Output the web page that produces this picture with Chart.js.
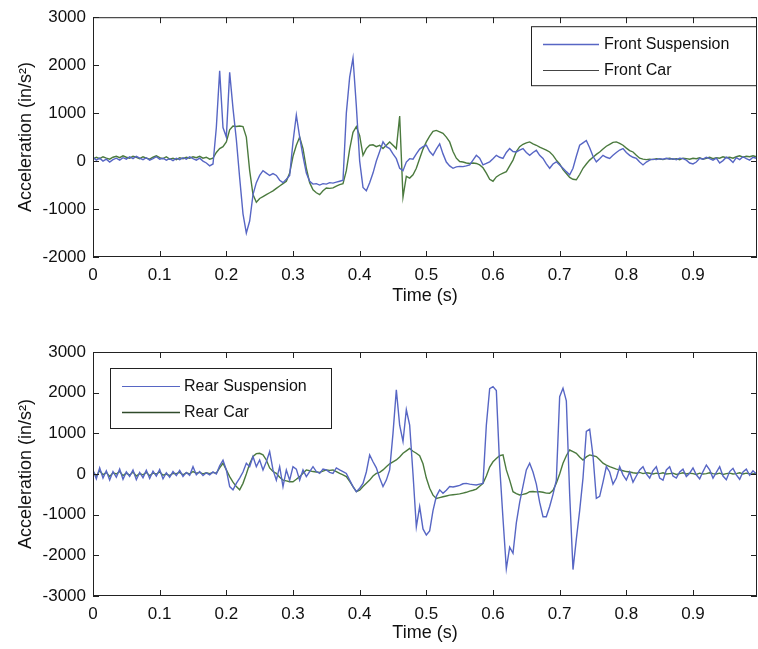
<!DOCTYPE html>
<html>
<head>
<meta charset="utf-8">
<script src="https://cdn.jsdelivr.net/npm/chart.js@4.4.0/dist/chart.umd.min.js"></script>
<style>
  body { margin: 0; background: #fff; }
  #wrap { position: relative; width: 758px; height: 649px; }
  #frontChart { position: absolute; left: 0; top: 0; }
  #rearChart { position: absolute; left: 0; top: 320px; }
</style>
</head>
<body>
<div id="wrap">
  <canvas id="frontChart" width="758" height="310"></canvas>
  <canvas id="rearChart" width="758" height="329"></canvas>
</div>
<script>
// samples every 5 ms, 0 .. 0.995 s
const SAMPLE_STEP = 0.005;
const xTickLabels = ['0', '0.1', '0.2', '0.3', '0.4', '0.5', '0.6', '0.7', '0.8', '0.9'];
const frontYTicks = ['3000', '2000', '1000', '0', '-1000', '-2000'];
const rearYTicks = ['3000', '2000', '1000', '0', '-1000', '-2000', '-3000'];

const frontSuspension = [
  80, 20, 60, 0, 40, -20, 30, 60, 20, 70,
  40, 90, 50, 100, 60, 30, 70, 20, 50, 90,
  40, 60, 20, 50, 10, 60, 30, 70, 40, 90,
  50, 20, 60, 0, -40, -100, -60, 700, 1880, 700,
  500, 1850, 1100, 450, -350, -1100, -1500, -1250, -700, -450,
  -300, -200, -250, -300, -260, -300, -400, -450, -380, -300,
  400, 960, 500, 100, -250, -420, -480, -470, -500, -470,
  -480, -450, -460, -440, -420, -400, 1000, 1750, 2150, 1150,
  0, -550, -620, -450, -250, 0, 200, 400, 300, 260,
  150, 50, -150, -200, -20, 50, 40, 150, 250, 300,
  330, 200, 120, 250, 360, 150, -20, -100, -150, -120,
  -110, -115, -100, -80, 20, 120, 60, -80, -50, -15,
  50, 120, 80, 55, 180, 260, 200, 190, 230, 260,
  180, 120, 180, 225, 120, 55, -60, -150, -60, -15,
  -80, -150, -220, -285, -150, 100, 330, 380, 430, 280,
  100, -15, 50, 120, 80, 55, 120, 180, 230, 260,
  180, 120, 80, 55, -20, -80, -20, 20, 40, 30,
  50, 40, 60, 40, 50, 30, 60, 50, 20, -40,
  -60, -20, 60, 40, 80, 50, 20, 60, -40, 10,
  80, 40, -30, 70, 30, 90, 50, 20, 80, 60
];

const frontCar = [
  40, 80, 50, 90, 60, 40, 80, 100, 70, 110,
  80, 60, 100, 80, 50, 90, 60, 40, 80, 110,
  70, 50, 90, 40, 60, 30, 70, 50, 80, 60,
  90, 70, 100, 60, 80, 40, 60, 180, 260, 300,
  400, 650, 730, 720, 730, 720, 500, -200, -700, -860,
  -780, -740, -700, -660, -620, -570, -520, -470, -420, -250,
  100, 330, 500, 260, -150, -450, -600, -660, -700, -620,
  -560, -570, -560, -520, -490, -470, -200, 250, 600, 720,
  530, 120, 260, 330, 340, 300, 330, 260, 330, 400,
  330, 260, 940, -750, -320, -355, -285, -150, 55, 250,
  400, 520, 620, 640, 610, 580, 500, 400, 200, 60,
  -10, -20, -40, -50, -40, -50, -80, -140, -250, -380,
  -420, -330, -285, -250, -220, -100, 20, 200, 300, 350,
  380, 400, 360, 330, 290, 260, 230, 190, 120, 20,
  -60, -180, -260, -340, -380, -390, -280, -150, -60, 20,
  80, 140, 190, 250, 310, 350, 390, 400, 370, 330,
  270, 220, 190, 120, 60, 40, 30, 40, 30, 50,
  40, 30, 50, 60, 40, 50, 30, 60, 50, 40,
  60, 50, 70, 40, 60, 80, 50, 70, 60, 90,
  70, 80, 60, 90, 110, 80, 100, 90, 110, 90
];

const rearSuspension = [
  100, -120, 150, -100, 80, -150, 60, -80, 120, -130,
  50, -60, 100, -140, 40, -90, 90, -110, 70, -50,
  110, -120, 30, -80, 60, -40, 90, -60, 40, -30,
  180, -20, 60, -40, 30, -20, 50, 0, 200, 340,
  100, -310, -390, -230, -100, 50, 265, 180, 430, 180,
  345, 100, 300, 550, 100, -150, 180, -310, 100, -150,
  180, 120, -150, 100, -65, 60, 180, 60, 15, 120,
  100, 40, 15, 150, 100, 60, 15, -150, -310, -435,
  -350, -230, 50, 470, 300, 150, -100, -310, -150, 100,
  1000, 2070, 1200, 800, 1580, 1200, 0, -1300, -800, -1350,
  -1500, -1400, -900, -550, -390, -475, -400, -310, -320, -300,
  -280, -240, -230, -250, -260, -270, -250, -230, 1200, 2100,
  2150, 2050, 200, -1100, -2330, -1800, -1950, -1200, -700, -300,
  100, 265, 50, -250, -700, -1050, -1050, -800, -500, -150,
  1900, 2110, 1800, -500, -2350, -1600, -900, -100, 1050, 1100,
  450, -600, -550, -200, 180, 50, -250, -100, 180, -20,
  -150, 50, -200, -50, 100, 180, 0, -100, 80, 180,
  -100, -150, 100, 180, -50, -100, 50, 120, -60, 20,
  150, -20, -120, 60, 220, 100, -100, 40, 180, -50,
  -140, 60, 140, -20, -130, 50, 120, -30, 80, 0
];

const rearCar = [
  60, -50, 80, -20, 40, -60, 30, 0, 60, -40,
  20, -30, 50, -50, 10, -20, 40, -40, 20, 0,
  50, -30, 0, -40, 20, 10, 40, -20, 30, 0,
  60, 20, 40, 0, 30, 10, 40, 20, 150, 265,
  100, -65, -200, -310, -390, -230, 0, 250, 430, 500,
  510, 470, 345, 150, 60, 15, -80, -150, -170, -190,
  -190, -130, -65, 20, 100, 80, 60, 50, 40, 70,
  100, 90, 100, 60, 15, -20, -65, -180, -310, -435,
  -400, -310, -230, -150, -50, 15, 40, 100, 180, 250,
  300, 345, 420, 510, 570, 630, 560, 510, 450, 250,
  -100, -350, -520, -600, -580, -560, -540, -520, -510, -500,
  -490, -470, -450, -420, -400, -370, -300, -230, -50, 170,
  300, 380, 450, 470, 100, -150, -435, -480, -515, -500,
  -480, -435, -430, -440, -435, -450, -470, -475, -400, -230,
  0, 265, 450, 590, 550, 510, 420, 345, 420, 470,
  450, 430, 350, 265, 220, 180, 150, 120, 100, 80,
  60, 50, 30, 20, 40, 10, 30, 20, 0, 20,
  10, 30, 0, 10, 20, -10, 10, 30, 0, 20,
  10, -10, 20, 0, 10, 30, 10, 0, 20, -10,
  10, 20, 0, 10, 30, 0, 20, 10, 0, 20
];

const FONT = '"Liberation Sans", Arial, sans-serif';
const BLUE = '#5766c4';
const GREEN = '#4b7a3e';

function toPoints(values) {
  return values.map((v, i) => ({ x: i * SAMPLE_STEP, y: v }));
}

// MATLAB style box with inward ticks on all four sides
const matlabBox = {
  id: 'matlabBox',
  afterDatasetsDraw(chart) {
    const { ctx, chartArea: a, scales } = chart;
    ctx.save();
    ctx.strokeStyle = '#222';
    ctx.lineWidth = 1;
    ctx.beginPath();
    scales.x.ticks.forEach(t => {
      const px = Math.round(scales.x.getPixelForValue(t.value)) + 0.5;
      ctx.moveTo(px, a.bottom); ctx.lineTo(px, a.bottom - 6);
      ctx.moveTo(px, a.top); ctx.lineTo(px, a.top + 6);
    });
    scales.y.ticks.forEach(t => {
      const py = Math.round(scales.y.getPixelForValue(t.value)) + 0.5;
      ctx.moveTo(a.left, py); ctx.lineTo(a.left + 6, py);
      ctx.moveTo(a.right, py); ctx.lineTo(a.right - 6, py);
    });
    ctx.stroke();
    ctx.strokeRect(a.left + 0.5, a.top + 0.5, a.right - a.left - 1, a.bottom - a.top - 1);
    ctx.restore();
  }
};

const boxLegend = {
  id: 'boxLegend',
  afterDraw(chart, args, opts) {
    const { ctx, chartArea: a } = chart;
    const left = opts.align === 'right' ? a.right - opts.offsetX - opts.width : a.left + opts.offsetX;
    const top = a.top + opts.offsetY;
    ctx.save();
    ctx.fillStyle = '#fff';
    ctx.fillRect(left, top, opts.width, opts.height);
    ctx.strokeStyle = '#222';
    ctx.lineWidth = 1;
    ctx.strokeRect(left + 0.5, top + 0.5, opts.width, opts.height);
    ctx.font = '16px ' + FONT;
    ctx.textBaseline = 'middle';
    ctx.fillStyle = '#111';
    chart.data.datasets.forEach((ds, i) => {
      const y = Math.round(top + opts.firstRow + i * opts.rowGap) + 0.5;
      ctx.strokeStyle = ds.legendColor || ds.borderColor;
      ctx.lineWidth = ds.legendWidth || 1;
      ctx.beginPath();
      ctx.moveTo(left + opts.lineStart, y);
      ctx.lineTo(left + opts.lineEnd, y);
      ctx.stroke();
      ctx.fillText(ds.label, left + opts.textStart, y);
    });
    ctx.restore();
  }
};

function makeChart(id, cfg) {
  return new Chart(document.getElementById(id), {
    type: 'line',
    data: { datasets: cfg.datasets },
    plugins: [matlabBox, boxLegend],
    options: {
      responsive: false,
      animation: false,
      devicePixelRatio: 1,
      layout: { padding: { top: cfg.padTop, right: 1, bottom: 0, left: 0 } },
      elements: { point: { radius: 0 }, line: { borderWidth: 1.4, tension: 0 } },
      plugins: {
        legend: { display: false },
        tooltip: { enabled: false },
        boxLegend: cfg.legend
      },
      scales: {
        x: {
          type: 'linear',
          min: 0,
          max: 0.996,
          grid: { display: false, drawTicks: false },
          border: { display: false },
          ticks: {
            stepSize: 0.1,
            includeBounds: false,
            padding: 8,
            color: '#111',
            font: { family: FONT, size: 17 },
            maxRotation: 0,
            autoSkip: false,
            callback: v => xTickLabels[Math.round(v * 10)]
          },
          title: {
            display: true,
            text: 'Time (s)',
            color: '#111',
            font: { family: FONT, size: 18 },
            padding: { top: 0, bottom: cfg.titleBottom }
          },
          afterFit: s => { s.height = 53; }
        },
        y: {
          min: cfg.yMin,
          max: 3000,
          grid: { display: false, drawTicks: false },
          border: { display: false },
          ticks: {
            stepSize: 1000,
            padding: 7,
            color: '#111',
            font: { family: FONT, size: 17 },
            callback: v => cfg.yTicks.includes(String(v)) ? String(v) : ''
          },
          title: {
            display: true,
            text: 'Acceleration (in/s\u00b2)',
            color: '#111',
            font: { family: FONT, size: 18 },
            padding: { top: 15, bottom: 0 }
          },
          afterFit: s => { s.width = 93; }
        }
      }
    }
  });
}

makeChart('frontChart', {
  padTop: 13,
  yMin: -2000,
  yTicks: frontYTicks,
  titleBottom: 3,
  legend: { align: 'right', offsetX: 1, offsetY: 9, width: 225, height: 59,
            firstRow: 17.5, rowGap: 26.5, lineStart: 12, lineEnd: 68, textStart: 73 },
  datasets: [
    { label: 'Front Suspension', data: toPoints(frontSuspension), borderColor: BLUE, legendWidth: 1.5 },
    { label: 'Front Car', data: toPoints(frontCar), borderColor: GREEN, legendColor: '#444', legendWidth: 1 }
  ]
});

makeChart('rearChart', {
  padTop: 32,
  yMin: -3000,
  yTicks: rearYTicks,
  titleBottom: 5,
  legend: { align: 'left', offsetX: 17, offsetY: 16, width: 221, height: 60,
            firstRow: 17.7, rowGap: 26, lineStart: 12, lineEnd: 70, textStart: 74 },
  datasets: [
    { label: 'Rear Suspension', data: toPoints(rearSuspension), borderColor: BLUE, legendWidth: 1 },
    { label: 'Rear Car', data: toPoints(rearCar), borderColor: GREEN, legendColor: '#2f4a2a', legendWidth: 1.5 }
  ]
});
</script>
</body>
</html>
